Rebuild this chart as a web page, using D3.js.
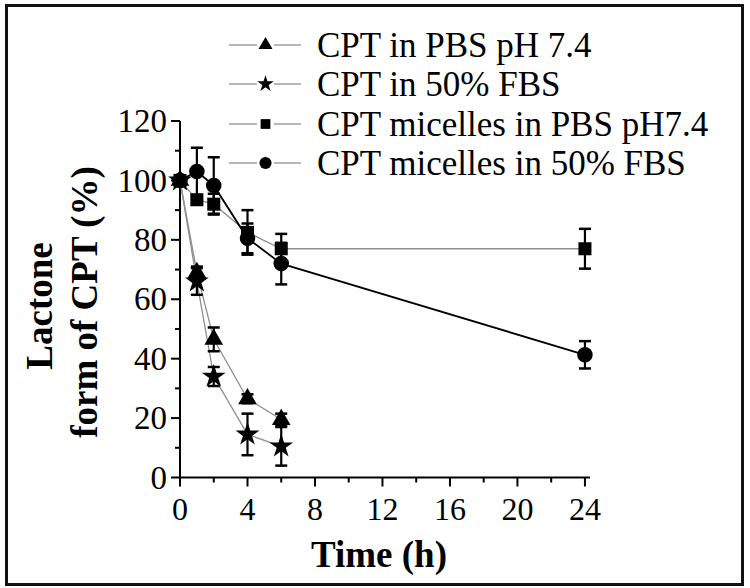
<!DOCTYPE html>
<html><head><meta charset="utf-8">
<script src="https://cdn.jsdelivr.net/npm/d3@7"></script>
<style>body{margin:0;background:#fff}svg{display:block}text{font-family:"Liberation Serif","Times New Roman",serif;fill:#000}</style>
</head><body><svg id="c" width="750" height="588"></svg>
<script>
const seriesNames = ["CPT in PBS pH 7.4","CPT in 50% FBS","CPT micelles in PBS pH7.4","CPT micelles in 50% FBS"];
const timeFree = [0,1,2,4,6];
const timeMic = [0,1,2,4,6,24];
const pbsVals = [100,69,46.5,26.5,19.5];
const pbsErr = [0,2,4,1.5,2];
const fbsVals = [100,66,34,14.5,10.5];
const fbsErr = [0,4.5,3.2,7,6.5];
const micPbsVals = [100,93.5,92,82.5,77,77];
const micPbsErr = [0,1.5,3.5,7.5,5,6.7];
const micFbsVals = [100,103,98.3,80.5,72,41.3];
const micFbsErr = [0,8,9.5,5,7,4.6];
const xTicks = [0,4,8,12,16,20,24];
const yTicks = [0,20,40,60,80,100,120];

const svg = d3.select("#c");
svg.append("rect").attr("x",6.5).attr("y",5.5).attr("width",736).attr("height",579)
  .attr("fill","none").attr("stroke","#111").attr("stroke-width",3);

const x = d3.scaleLinear().domain([0,24.3]).range([180,590]);
const y = d3.scaleLinear().domain([0,120]).range([477.5,121]);

const series = [
  {name:seriesNames[0], t:timeFree, v:pbsVals, e:pbsErr, sym:d3.symbolTriangle, size:150, lsize:85, line:"#8f8f8f", lw:1.3},
  {name:seriesNames[1], t:timeFree, v:fbsVals, e:fbsErr, sym:d3.symbolStar, size:175, lsize:85, line:"#8f8f8f", lw:1.3},
  {name:seriesNames[2], t:timeMic, v:micPbsVals, e:micPbsErr, sym:d3.symbolSquare, size:170, lsize:95, line:"#8f8f8f", lw:1.3},
  {name:seriesNames[3], t:timeMic, v:micFbsVals, e:micFbsErr, sym:d3.symbolCircle, size:190, lsize:115, line:"#000", lw:1.8}
];

// axes
const gx = svg.append("g").attr("transform","translate(0,477.5)");
gx.append("line").attr("x1",180).attr("x2",590).attr("stroke","#000").attr("stroke-width",2);
d3.range(0,25,2).forEach(t=>{
  const major = t%4===0;
  gx.append("line").attr("x1",x(t)).attr("x2",x(t)).attr("y1",0).attr("y2",major?9:5).attr("stroke","#000").attr("stroke-width",2);
});
xTicks.forEach(t=>gx.append("text").attr("x",x(t)).attr("y",42).attr("text-anchor","middle").attr("font-size",32).text(t));

const gy = svg.append("g").attr("transform","translate(180,0)");
gy.append("line").attr("y1",y(0)+1).attr("y2",y(120)).attr("stroke","#000").attr("stroke-width",2);
d3.range(0,121,10).forEach(v=>{
  const major = v%20===0;
  gy.append("line").attr("x1",0).attr("x2",major?-9:-5).attr("y1",y(v)).attr("y2",y(v)).attr("stroke","#000").attr("stroke-width",2);
});
yTicks.forEach(v=>gy.append("text").attr("x",-13).attr("y",y(v)).attr("dy","0.34em").attr("text-anchor","end").attr("font-size",33).text(v));

svg.append("text").attr("x",379).attr("y",567).attr("text-anchor","middle").attr("font-size",37).attr("font-weight","bold").text("Time (h)");
svg.append("text").attr("transform","translate(52,306) rotate(-90)").attr("text-anchor","middle").attr("font-size",37).attr("font-weight","bold").text("Lactone");
svg.append("text").attr("transform","translate(97,302) rotate(-90)").attr("text-anchor","middle").attr("font-size",37).attr("font-weight","bold").text("form of CPT (%)");

// lines
const lineGen = d3.line().x(d=>x(d[0])).y(d=>y(d[1]));
series.forEach(s=>{
  svg.append("path").attr("d",lineGen(s.t.map((t,i)=>[t,s.v[i]]))).attr("fill","none").attr("stroke",s.line).attr("stroke-width",s.lw);
});
// error bars
series.forEach(s=>{
  s.t.forEach((t,i)=>{
    if(!s.e[i]) return;
    const cx=x(t), y1=y(s.v[i]-s.e[i]), y2=y(s.v[i]+s.e[i]);
    svg.append("line").attr("x1",cx).attr("x2",cx).attr("y1",y1).attr("y2",y2).attr("stroke","#000").attr("stroke-width",2.2);
    [y1,y2].forEach(yy=>svg.append("line").attr("x1",cx-6).attr("x2",cx+6).attr("y1",yy).attr("y2",yy).attr("stroke","#000").attr("stroke-width",2.5));
  });
});
// markers
series.forEach(s=>{
  s.t.forEach((t,i)=>{
    svg.append("path").attr("d",d3.symbol().type(s.sym).size(s.size)()).attr("transform",`translate(${x(t)},${y(s.v[i])})`).attr("fill","#000");
  });
});
// legend
const legY = [45,84,124,163];
series.forEach((s,i)=>{
  const g = svg.append("g").attr("transform",`translate(0,${legY[i]})`);
  g.append("line").attr("x1",229).attr("x2",257).attr("stroke","#8f8f8f").attr("stroke-width",1.3);
  g.append("line").attr("x1",274).attr("x2",301).attr("stroke","#8f8f8f").attr("stroke-width",1.3);
  g.append("path").attr("d",d3.symbol().type(s.sym).size(s.lsize)()).attr("transform","translate(265.5,0)").attr("fill","#000");
  g.append("text").attr("x",317).attr("y",0).attr("dy","0.33em").attr("font-size",35).text(s.name);
});
</script></body></html>
